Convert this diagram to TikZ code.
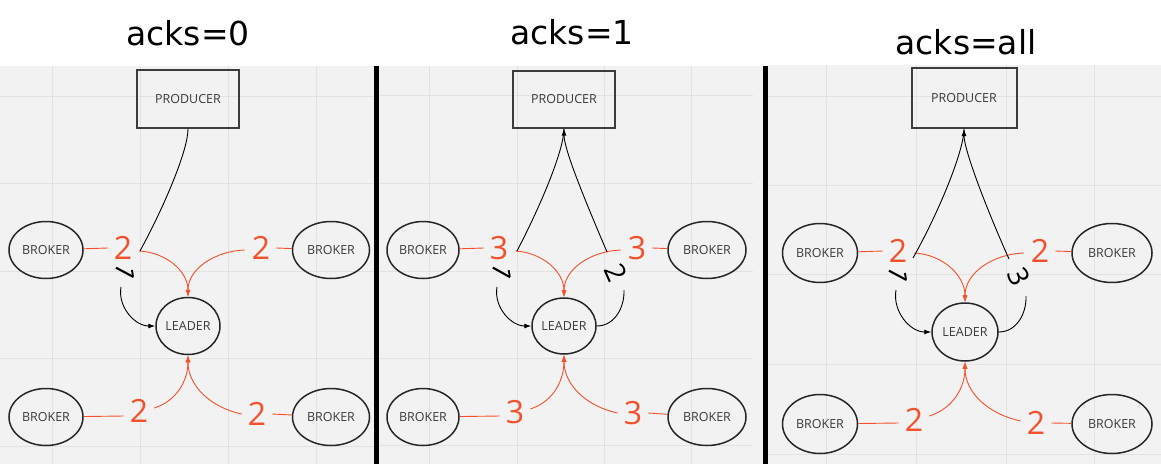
\documentclass[tikz,border=0pt]{standalone}
\usepackage{fontspec}
\setmainfont{Open Sans}
\newfontfamily\dejavu{DejaVu Sans}
\usetikzlibrary{shapes.geometric,arrows.meta}
\definecolor{bggrey}{HTML}{F2F2F2}
\definecolor{gridc}{HTML}{E2E2E2}
\definecolor{kred}{RGB}{244,80,44}
\definecolor{edgec}{HTML}{262626}
\definecolor{txtc}{HTML}{3A3A3A}
\begin{document}
\begin{tikzpicture}[x=1pt,y=-1pt,
  broker/.style={ellipse,draw=edgec,line width=1.5pt,minimum height=57pt,inner sep=0pt,font=\fontsize{12.5}{14}\selectfont,text=txtc},
  leader/.style={ellipse,draw=edgec,line width=1.5pt,minimum width=64pt,minimum height=57pt,inner sep=0pt,font=\fontsize{12.5}{14}\selectfont,text=txtc},
  prod/.style={rectangle,draw=edgec!90,line width=2pt,minimum width=102pt,minimum height=58pt,inner sep=0pt,font=\fontsize{12.5}{14}\selectfont,text=txtc},
  rnum/.style={text=kred,font=\fontsize{32}{34}\selectfont,inner sep=0pt},
  bnum/.style={text=black,font=\fontsize{28}{30}\selectfont,inner sep=0pt},
  title/.style={font=\dejavu\fontsize{33}{38}\selectfont,text=black},
  redline/.style={draw=kred,line width=0.9pt},
  redarrow/.style={draw=kred,line width=0.9pt,-{Latex[length=7pt,width=5pt]}},
  blkline/.style={draw=black,line width=0.9pt},
  blkarrow/.style={draw=black,line width=0.9pt,-{Latex[length=7pt,width=5pt]}},
  gridline/.style={draw=gridc,line width=0.8pt}
]
\useasboundingbox (0,0) rectangle (1161,464);
\fill[white] (0,0) rectangle (1161,464);
% panel backgrounds
\fill[bggrey] (0,66) rectangle (374,464);
\fill[bggrey] (379,66) rectangle (763,464);
\fill[bggrey] (768,65) rectangle (1161,464);
% grids
\foreach \gx in {52,140,228,316} \draw[gridline] (\gx,66) -- (\gx,464);
\foreach \gy in {96,183,271,358,446} \draw[gridline] (0,\gy) -- (374,\gy);
\foreach \gx in {429,517,604,691} \draw[gridline] (\gx,66) -- (\gx,464);
\foreach \gy in {95,183,271,358,445} \draw[gridline] (379,\gy) -- (753,\gy);
\foreach \gx in {826,916,1006,1094} \draw[gridline] (\gx,65) -- (\gx,464);
\foreach \gy in {96,185,274,364,454} \draw[gridline] (768,\gy) -- (1161,\gy);
% separators
\fill[black] (374,66) rectangle (379,464);
\fill[black] (763,66) rectangle (768,464);
% titles
\node[title] (t1) at (188,33) {acks=0};
\node[title] (t2) at (572,32) {acks=1};
\node[title] (t3) at (966,42) {acks=all};

% ---------------- panel 1 ----------------
\node[prod] (p1) at (188,99) {PRODUCER};
\node[broker,minimum width=74pt] (b1a) at (46,250) {BROKER};
\node[broker,minimum width=77pt] (b1b) at (331,250) {BROKER};
\node[broker,minimum width=74pt] (b1c) at (46,417) {BROKER};
\node[broker,minimum width=77pt] (b1d) at (331,417) {BROKER};
\node[leader] (l1) at (188,326) {LEADER};
\node[rnum] (r1a) at (123,248) {2};
\node[rnum] (r1b) at (261,248) {2};
\node[rnum] (r1c) at (139,411) {2};
\node[rnum] (r1d) at (257,414) {2};
\draw[redline] (b1a) -- ([xshift=-6pt]r1a.west);
\draw[redarrow] ([xshift=7pt,yshift=-3pt]r1a.east) to[out=-3,in=90] (l1.north);
\draw[redarrow] ([xshift=-7pt,yshift=-2pt]r1b.west) to[out=182,in=90] (l1.north);
\draw[redline] ([xshift=6pt]r1b.east) -- (b1b);
\draw[redline] (b1c) -- ([xshift=-6pt,yshift=-5pt]r1c.west);
\draw[redarrow] ([xshift=6pt,yshift=3pt]r1c.east) to[out=18,in=-90] (l1.south);
\draw[redarrow] ([xshift=-6pt]r1d.west) to[out=168,in=-90] (l1.south);
\draw[redline] ([xshift=6pt]r1d.east) -- (b1d);
\coordinate (k1a) at (140,251);
\coordinate (k1b) at (121,287);
\node[bnum,rotate=-118] (n11) at (126,272) {1};
\draw[blkline] (p1.south) .. controls (188,150) and (165,205) .. (k1a);
\draw[blkarrow] (k1b) to[out=-100,in=180] (l1.west);

% ---------------- panel 2 ----------------
\node[prod,minimum height=57pt] (p2) at (564,99) {PRODUCER};
\node[broker,minimum width=72pt] (b2a) at (423,250) {BROKER};
\node[broker,minimum width=78pt] (b2b) at (707,250) {BROKER};
\node[broker,minimum width=72pt] (b2c) at (423,417) {BROKER};
\node[broker,minimum width=78pt] (b2d) at (707,417) {BROKER};
\node[leader,minimum height=56pt] (l2) at (564,326) {LEADER};
\node[rnum] (r2a) at (499,248) {3};
\node[rnum] (r2b) at (637,248) {3};
\node[rnum] (r2c) at (515,412) {3};
\node[rnum] (r2d) at (633,413) {3};
\draw[redline] (b2a) -- ([xshift=-6pt]r2a.west);
\draw[redarrow] ([xshift=7pt,yshift=-3pt]r2a.east) to[out=-3,in=90] (l2.north);
\draw[redarrow] ([xshift=-7pt,yshift=-2pt]r2b.west) to[out=182,in=90] (l2.north);
\draw[redline] ([xshift=6pt]r2b.east) -- (b2b);
\draw[redline] (b2c) -- ([xshift=-6pt,yshift=-4pt]r2c.west);
\draw[redarrow] ([xshift=6pt,yshift=3pt]r2c.east) to[out=18,in=-90] (l2.south);
\draw[redarrow] ([xshift=-6pt]r2d.west) to[out=168,in=-90] (l2.south);
\draw[redline] ([xshift=6pt]r2d.east) -- (b2d);
\coordinate (k2a) at (517,251);
\coordinate (k2b) at (497,287);
\coordinate (k2c) at (624,290);
\coordinate (k2d) at (607,252);
\node[bnum,rotate=-119] (n21) at (502,272) {1};
\node[bnum,rotate=-66] (n22) at (616,273) {2};
\draw[blkline] (p2.south) .. controls (564,150) and (541,205) .. (k2a);
\draw[blkarrow] (k2b) to[out=-100,in=180] (l2.west);
\draw[blkline] (l2.east) to[out=0,in=-88] (k2c);
\draw[blkarrow] (k2d) .. controls (587,205) and (564,150) .. (p2.south);

% ---------------- panel 3 ----------------
\node[prod,minimum width=105pt,minimum height=60pt] (p3) at (964,98) {PRODUCER};
\node[broker,minimum width=75pt,minimum height=59pt] (b3a) at (820,253) {BROKER};
\node[broker,minimum width=80pt,minimum height=59pt] (b3b) at (1112,253) {BROKER};
\node[broker,minimum width=75pt,minimum height=59pt] (b3c) at (820,424) {BROKER};
\node[broker,minimum width=80pt,minimum height=59pt] (b3d) at (1112,424) {BROKER};
\node[leader,minimum width=66pt,minimum height=58pt] (l3) at (965,332) {LEADER};
\node[rnum] (r3a) at (898,251) {2};
\node[rnum] (r3b) at (1040,251) {2};
\node[rnum] (r3c) at (914,420) {2};
\node[rnum] (r3d) at (1036,423) {2};
\draw[redline] (b3a) -- ([xshift=-6pt]r3a.west);
\draw[redarrow] ([xshift=7pt,yshift=-2pt]r3a.east) to[out=-3,in=90] (l3.north);
\draw[redarrow] ([xshift=-7pt,yshift=-2pt]r3b.west) to[out=182,in=90] (l3.north);
\draw[redline] ([xshift=6pt]r3b.east) -- (b3b);
\draw[redline] (b3c) -- ([xshift=-6pt,yshift=-3pt]r3c.west);
\draw[redarrow] ([xshift=6pt,yshift=4pt]r3c.east) to[out=18,in=-90] (l3.south);
\draw[redarrow] ([xshift=-6pt,yshift=2pt]r3d.west) to[out=168,in=-90] (l3.south);
\draw[redline] ([xshift=6pt]r3d.east) -- (b3d);
\coordinate (k3a) at (913,258);
\coordinate (k3b) at (896,290);
\coordinate (k3c) at (1026,296);
\coordinate (k3d) at (1009,259);
\node[bnum,rotate=-118] (n31) at (899,275) {1};
\node[bnum,rotate=-66] (n33) at (1019,277) {3};
\draw[blkline] (p3.south) .. controls (964,150) and (940,210) .. (k3a);
\draw[blkarrow] (k3b) to[out=-100,in=180] (l3.west);
\draw[blkline] (l3.east) to[out=0,in=-88] (k3c);
\draw[blkarrow] (k3d) .. controls (987,210) and (964,150) .. (p3.south);
\end{tikzpicture}
\end{document}
